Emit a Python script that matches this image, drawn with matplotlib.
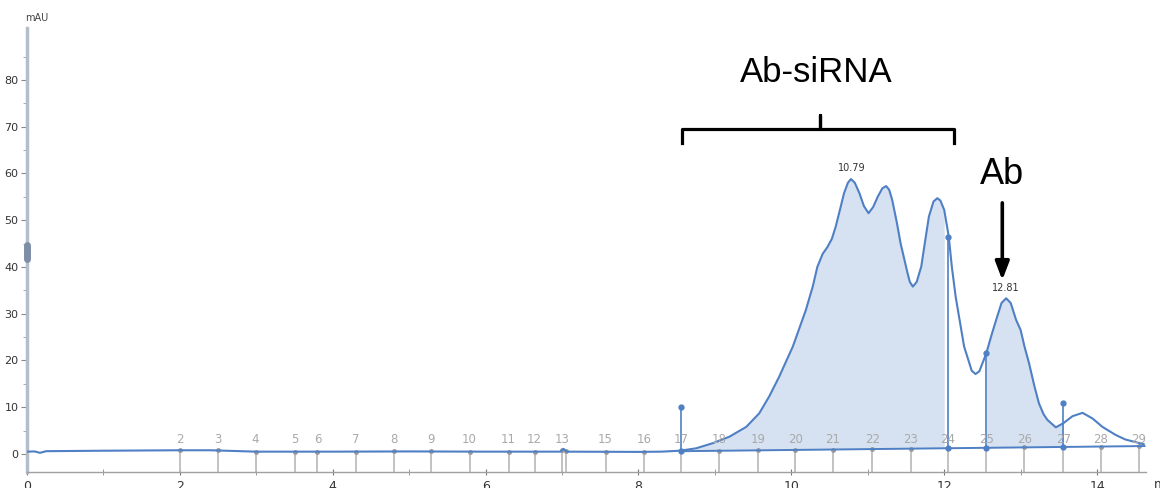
import numpy as np
import matplotlib.pyplot as plt

# chromatogram trace (min, mAU)
time_min = [0.0, 0.1, 0.17, 0.25, 1.0, 2.0, 2.4, 3.0, 4.0, 5.0, 6.0, 6.98, 7.02, 7.06,
            8.0, 8.3, 8.54, 8.75, 8.97, 9.19, 9.41, 9.58, 9.71, 9.84, 10.02, 10.19,
            10.28, 10.34, 10.41, 10.47, 10.53, 10.58, 10.64, 10.69, 10.74, 10.78, 10.83,
            10.89, 10.95, 11.01, 11.07, 11.13, 11.19, 11.24, 11.28, 11.32, 11.38, 11.43,
            11.52, 11.55, 11.59, 11.64, 11.70, 11.75, 11.80, 11.86, 11.91, 11.95, 12.0,
            12.06, 12.10, 12.15, 12.26, 12.36, 12.41, 12.46, 12.55, 12.62, 12.68, 12.75,
            12.81, 12.87, 12.94, 13.0, 13.05, 13.11, 13.18, 13.24, 13.30, 13.35, 13.46,
            13.56, 13.68, 13.81, 13.94, 14.07, 14.24, 14.37, 14.61]
mau = [0.5, 0.55, 0.25, 0.6, 0.7, 0.8, 0.8, 0.5, 0.5, 0.55, 0.5, 0.5, 1.1, 0.5,
       0.45, 0.5, 0.7, 1.2, 2.3, 3.7, 5.8, 8.7, 12.3, 16.5, 23.0, 30.8,
       35.8, 40.0, 42.8, 44.2, 46.0, 48.6, 52.5, 55.8, 58.0, 58.8, 58.0,
       55.8, 53.0, 51.5, 52.8, 55.0, 56.8, 57.3, 56.5, 54.3, 49.5, 45.0,
       38.7, 36.8, 35.8, 36.8, 40.1, 45.5, 50.8, 54.0, 54.7, 54.2, 52.2,
       46.4, 40.0, 33.6, 23.0, 17.8, 17.1, 17.7, 21.5, 25.5, 28.7, 32.3,
       33.3, 32.3, 28.7, 26.5, 23.0, 19.4, 14.5, 10.8, 8.5, 7.3, 5.7,
       6.6, 8.1, 8.8, 7.6, 5.8, 4.1, 3.1, 2.1]

# integration baseline
base_t = [8.56, 14.62]
base_v = [0.6, 1.7]

# peak boundaries (stems) and their top values
cut_t = [8.56, 12.05, 12.55, 13.56]
cut_top = [10.0, 46.4, 21.5, 10.9]
# shaded peak areas
areas = [(8.56, 12.05), (12.55, 13.56)]

# labelled peak apexes
apex_t = [10.79, 12.81]
apex_v = [58.8, 33.3]

# fractions
frac_label = ['2', '3', '4', '5', '6', '7', '8', '9', '10', '11', '12', '13', '', '15',
              '16', '17', '18', '19', '20', '21', '22', '23', '24', '25', '26', '27',
              '28', '29']
frac_t = [2.0, 2.5, 2.99, 3.5, 3.8, 4.3, 4.8, 5.29, 5.79, 6.3, 6.64, 7.0, 7.05, 7.57,
          8.07, 8.56, 9.06, 9.56, 10.05, 10.54, 11.06, 11.56, 12.05, 12.55, 13.05,
          13.56, 14.05, 14.55]

line_c = '#4f7fc4'
fill_c = '#d6e2f1'
YMIN, YMAX = -3.85, 91.1

fig = plt.figure(figsize=(11.6, 4.88), dpi=100)
ax = fig.add_axes([27/1160, 16/488, (1146-27)/1160, (472-28)/488])
ax.set_xlim(0, 14.64)
ax.set_ylim(YMIN, YMAX)

t = np.array(time_min)
v = np.array(mau)
base = np.interp(t, base_t, base_v, left=np.nan, right=np.nan)

for a, b in areas:
    m = (t >= a - 1e-9) & (t <= b + 1e-9)
    ax.fill_between(t[m], base[m], v[m], color=fill_c, lw=0, zorder=1)

ax.plot(t, v, color=line_c, lw=1.5, zorder=4, solid_joinstyle='round')
ax.plot(base_t, base_v, color=line_c, lw=1.4, zorder=4)

# fraction markers
for lab, ft in zip(frac_label, frac_t):
    y0 = np.interp(ft, base_t, base_v) if ft >= base_t[0] else np.interp(ft, t, v)
    ax.plot([ft, ft], [YMIN, y0], color='#bdbdbd', lw=1.3, zorder=2, clip_on=False)
    ax.plot(ft, y0, marker='o', ms=2.5, color='#9a9a9a', zorder=3)
    if lab:
        ax.text(ft, 3.0, lab, ha='center', va='center', fontsize=8.5,
                color='#a9a9a9', zorder=5)

# peak boundary stems
for ct, ctop in zip(cut_t, cut_top):
    y0 = np.interp(ct, base_t, base_v)
    ax.plot([ct, ct], [y0, ctop], color=line_c, lw=1.2, zorder=4)
    ax.plot([ct, ct], [y0, ctop], ls='none', marker='o', ms=3.5, color=line_c, zorder=5)

for at, av in zip(apex_t, apex_v):
    ax.text(at, av + 1.2, f'{at:.2f}', ha='center', va='bottom', fontsize=7,
            color='#333333')

# annotations
ann_font = 'Liberation Sans'
ax.text(10.33, 81.5, 'Ab-siRNA', ha='center', va='center', fontsize=25,
        family=ann_font, color='black')
bx0, bx1, bxc = 8.575, 12.13, 10.37
ax.plot([bx0, bx0, bxc, bxc, bxc, bx1, bx1], [66.5, 69.5, 69.5, 72.5, 69.5, 69.5, 66.5],
        color='black', lw=2.3, solid_joinstyle='round', clip_on=False)
ax.text(12.76, 59.7, 'Ab', ha='center', va='center', fontsize=26,
        family=ann_font, color='black')
ax.annotate('', xy=(12.76, 36.6), xytext=(12.76, 54.3),
            arrowprops=dict(arrowstyle='-|>,head_width=0.42,head_length=1.1',
                            color='black', lw=2.6))

# axes styling
for s in ['top', 'right']:
    ax.spines[s].set_visible(False)
ax.spines['left'].set_color('#b4bdca')
ax.spines['left'].set_linewidth(2.5)
ax.spines['bottom'].set_color('#a0a0a0')
ax.spines['bottom'].set_linewidth(1.0)

ax.set_yticks(np.arange(0, 81, 10))
ax.set_yticks(np.arange(5, 90, 10), minor=True)
ax.set_xticks(np.arange(0, 15, 2))
ax.set_xticks(np.arange(1, 15, 2), minor=True)
ax.tick_params(axis='y', which='major', length=4, width=0.8, color='#888888',
               labelsize=8, labelcolor='#333333', pad=2)
ax.tick_params(axis='y', which='minor', length=3, width=0.7, color='#aaaaaa')
ax.tick_params(axis='x', which='major', direction='inout', length=5, width=0.8,
               color='#777777', labelsize=9, labelcolor='#333333', pad=3)
ax.tick_params(axis='x', which='minor', direction='inout', length=4, width=0.7,
               color='#999999')

# scroll handle on the y axis
ax.plot([0, 0], [41.8, 44.6], color='#7d8ea6', lw=5, solid_capstyle='round',
        clip_on=False, zorder=6)

fig.text(37/1160, 1 - 18/488, 'mAU', ha='center', va='center', fontsize=7,
         color='#444444')
fig.text(1154/1160, 1 - 484/488, 'min', ha='left', va='center', fontsize=9,
         color='#333333')

fig.savefig('out.png', dpi=100)
